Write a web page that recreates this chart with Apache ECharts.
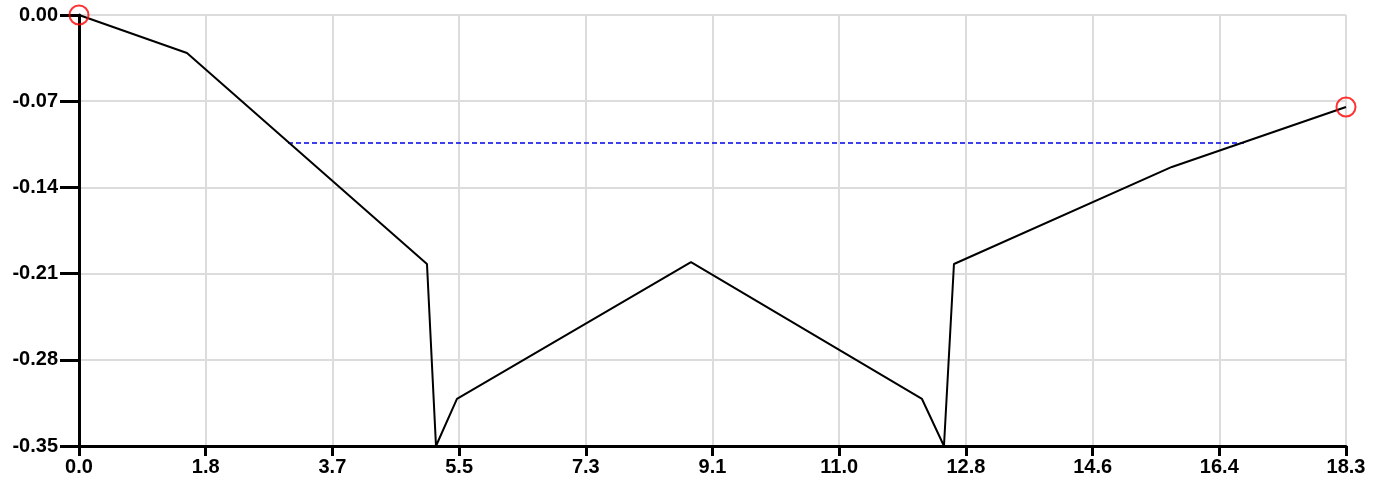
<!DOCTYPE html>
<html>
<head>
<meta charset="utf-8">
<script src="https://cdn.jsdelivr.net/npm/echarts@6/dist/echarts.min.js"></script>
<style>
  html, body { margin: 0; padding: 0; background: #fff; }
  #chart { width: 1374px; height: 480px; }
</style>
</head>
<body>
<div id="chart"></div>
<script>
// profile values
const xValues = [0, 1.556, 5.015, 5.145, 5.447, 8.82, 12.149, 12.466, 12.61, 15.75, 18.26]
const yValues = [0, -0.0309, -0.2022, -0.35, -0.3118, -0.2006, -0.3118, -0.35, -0.2022, -0.1234, -0.0747]

// dashed level line
const levelX = [3.012, 16.79]
const levelY = -0.1039

const xMax = 18.26
const xStep = 1.826
const yMin = -0.35
const yStep = 0.07

const chart = echarts.init(document.getElementById('chart'))

const lineData = xValues.map((x, i) => [x, yValues[i]])
const endPoints = [lineData[0], lineData[lineData.length - 1]]

const labelFont = {
  color: '#000',
  fontFamily: 'Liberation Sans, Arial, sans-serif',
  fontWeight: 'bold',
  fontSize: 20,
}

const option = {
  backgroundColor: '#fff',
  animation: false,
  grid: {
    left: 79,
    right: 28,
    top: 15,
    bottom: 34,
  },
  xAxis: {
    type: 'value',
    min: 0,
    max: xMax,
    interval: xStep,
    axisLine: { show: true, onZero: false, lineStyle: { color: '#000', width: 3 } },
    axisTick: { show: true, inside: false, length: 10, lineStyle: { color: '#000', width: 3 } },
    axisLabel: {
      ...labelFont,
      margin: 11,
      showMaxLabel: true,
      formatter: (v) => v.toFixed(1),
    },
    splitLine: { show: true, lineStyle: { color: '#dcdcdc', width: 2 } },
  },
  yAxis: {
    type: 'value',
    min: yMin,
    max: 0,
    interval: yStep,
    axisLine: { show: true, onZero: false, lineStyle: { color: '#000', width: 3 } },
    axisTick: { show: true, inside: false, length: 19, lineStyle: { color: '#000', width: 3 } },
    axisLabel: {
      ...labelFont,
      margin: 21,
      formatter: (v) => v.toFixed(2),
    },
    splitLine: { show: true, lineStyle: { color: '#dcdcdc', width: 2 } },
  },
  series: [
    {
      type: 'line',
      data: lineData,
      symbol: 'none',
      lineStyle: { color: '#000', width: 2 },
      z: 3,
    },
    {
      type: 'line',
      data: levelX.map((x) => [x, levelY]),
      symbol: 'none',
      lineStyle: { color: '#0000ee', width: 1.5, type: [5, 3] },
      z: 2,
    },
    {
      type: 'scatter',
      data: endPoints,
      symbol: 'circle',
      symbolSize: 19,
      itemStyle: { color: 'transparent', borderColor: '#ff0000', borderWidth: 2 },
      z: 4,
    },
  ],
}

chart.setOption(option)
</script>
</body>
</html>
